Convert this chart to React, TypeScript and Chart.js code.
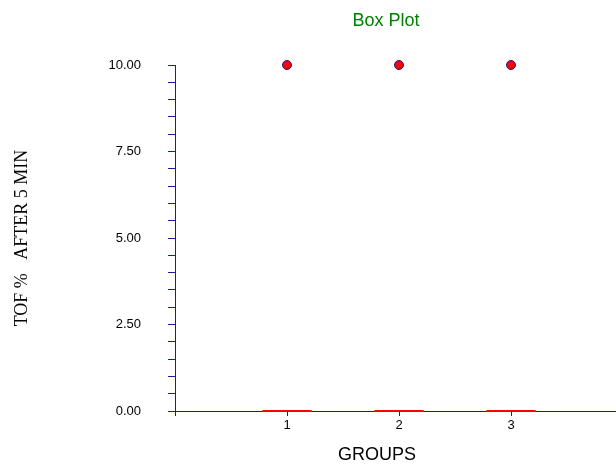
import React, { useEffect, useRef } from "react";
import { Chart, registerables } from "chart.js";

Chart.register(...registerables);

const groups = [1, 2, 3];
const groupLabels = ["1", "2", "3"];
const whiskerLow = [0, 0, 0];
const q1 = [0, 0, 0];
const median = [0, 0, 0];
const q3 = [0, 0, 0];
const whiskerHigh = [0, 0, 0];
const outliers = [[10], [10], [10]];
const yMajorTicks = [0, 2.5, 5, 7.5, 10];

const NAVY = "#1c1c8c";
const SANS = "Arial, 'Liberation Sans', sans-serif";
const SERIF = "'Times New Roman', 'Liberation Serif', serif";

const boxPlugin = {
  id: "boxPlugin",
  afterDatasetsDraw(chart: any) {
    const { ctx, scales } = chart;
    const xs = scales.x;
    const ys = scales.y;
    const half = 0.22;
    ctx.save();
    ctx.strokeStyle = "#ff0000";
    ctx.lineWidth = 2;
    groups.forEach((g, i) => {
      const l = xs.getPixelForValue(g - half);
      const r = xs.getPixelForValue(g + half);
      const c = xs.getPixelForValue(g);
      const yq1 = ys.getPixelForValue(q1[i]);
      const yq3 = ys.getPixelForValue(q3[i]);
      const ym = ys.getPixelForValue(median[i]);
      const ylo = ys.getPixelForValue(whiskerLow[i]);
      const yhi = ys.getPixelForValue(whiskerHigh[i]);
      ctx.beginPath();
      ctx.rect(l, yq3, r - l, yq1 - yq3);
      ctx.moveTo(l, ym);
      ctx.lineTo(r, ym);
      ctx.moveTo(c, yq3);
      ctx.lineTo(c, yhi);
      ctx.moveTo(c, yq1);
      ctx.lineTo(c, ylo);
      ctx.stroke();
    });
    ctx.restore();
  },
};

const textPlugin = {
  id: "textPlugin",
  afterDraw(chart: any) {
    const { ctx, chartArea } = chart;
    ctx.save();
    ctx.textAlign = "center";
    ctx.textBaseline = "middle";
    ctx.fillStyle = "#008000";
    ctx.font = `18px ${SANS}`;
    ctx.fillText("Box Plot", 386, 21);
    ctx.fillStyle = "#000000";
    ctx.font = `18px ${SANS}`;
    ctx.fillText("GROUPS", 377, 455);
    ctx.translate(22, (chartArea.top + chartArea.bottom) / 2);
    ctx.rotate(-Math.PI / 2);
    ctx.font = `18px ${SERIF}`;
    ctx.fillText("TOF %   AFTER 5 MIN", 0, 0);
    ctx.restore();
  },
};

export default function App() {
  const ref = useRef<HTMLCanvasElement>(null);
  useEffect(() => {
    document.body.style.margin = "0";
    const canvas = ref.current!;
    const outlierPts: { x: number; y: number }[] = [];
    groups.forEach((g, i) => outliers[i].forEach((v) => outlierPts.push({ x: g, y: v })));
    const chart = new Chart(canvas, {
      type: "scatter",
      data: {
        datasets: [
          {
            data: outlierPts,
            backgroundColor: "#ff0000",
            borderColor: NAVY,
            borderWidth: 1,
            pointRadius: 4.5,
            clip: false,
          } as any,
        ],
      },
      options: {
        animation: false,
        responsive: false,
        maintainAspectRatio: false,
        layout: { padding: { top: 65, left: 0, right: 7, bottom: 0 } },
        plugins: {
          legend: { display: false },
          tooltip: { enabled: false },
          title: { display: false },
        },
        scales: {
          x: {
            type: "linear",
            min: 0,
            max: 4,
            afterFit: (s: any) => {
              s.height = 56;
            },
            afterBuildTicks: (s: any) => {
              s.ticks = [0, 1, 2, 3, 4].map((v) => ({ value: v }));
            },
            ticks: {
              autoSkip: false,
              maxRotation: 0,
              color: "#000000",
              font: { family: SANS, size: 13 },
              padding: 2,
              callback: (v: any) => {
                const idx = groups.indexOf(Number(v));
                return idx >= 0 ? groupLabels[idx] : "";
              },
            },
            grid: {
              drawOnChartArea: false,
              drawTicks: true,
              tickLength: 5,
              color: NAVY,
            },
            border: { color: NAVY, width: 1 },
          },
          y: {
            type: "linear",
            min: 0,
            max: 10,
            afterFit: (s: any) => {
              s.width = 175;
            },
            afterBuildTicks: (s: any) => {
              const t: { value: number }[] = [];
              for (let k = 0; k <= 20; k++) t.push({ value: k * 0.5 });
              s.ticks = t;
            },
            ticks: {
              autoSkip: false,
              color: "#000000",
              font: { family: SANS, size: 13 },
              padding: 27,
              callback: (v: any) => {
                const n = Number(v);
                return yMajorTicks.some((m) => Math.abs(m - n) < 1e-9) ? n.toFixed(2) : "";
              },
            },
            grid: {
              drawOnChartArea: false,
              drawTicks: true,
              tickLength: 7,
              color: NAVY,
            },
            border: { color: NAVY, width: 1 },
          },
        },
      },
      plugins: [boxPlugin, textPlugin],
    });
    return () => chart.destroy();
  }, []);
  return (
    <div style={{ position: "relative", width: 616, height: 467, overflow: "hidden" }}>
      <canvas ref={ref} width={630} height={467} style={{ position: "absolute", left: 0, top: 0 }} />
    </div>
  );
}
